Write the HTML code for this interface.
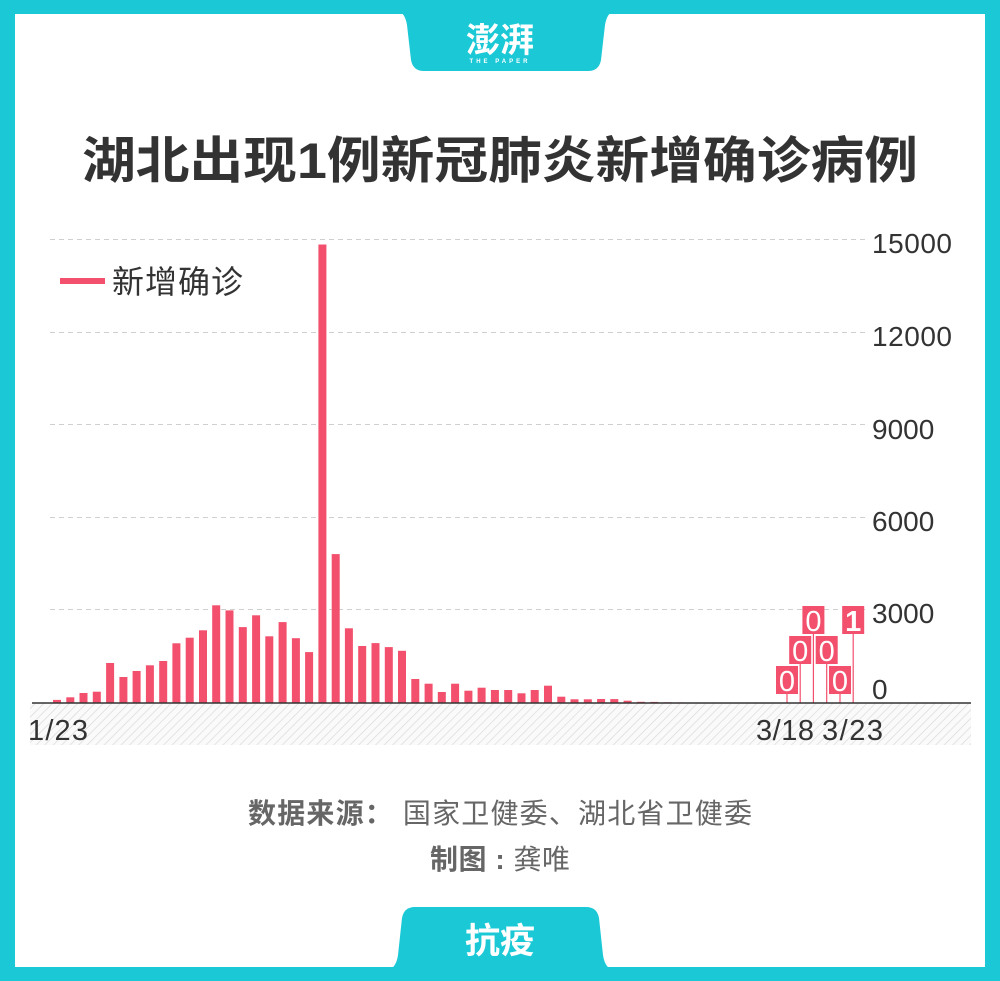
<!DOCTYPE html>
<html><head><meta charset="utf-8"><style>
html,body{margin:0;padding:0;background:#fff;}
svg{display:block;}
text{font-family:"Liberation Sans","Noto Sans CJK SC",sans-serif;}
</style></head><body>
<svg width="1000" height="981" viewBox="0 0 1000 981" xmlns="http://www.w3.org/2000/svg">
<defs>
<pattern id="hatch" width="6" height="6" patternUnits="userSpaceOnUse" patternTransform="rotate(45)">
<rect width="6" height="6" fill="#fafafa"/>
<line x1="0" y1="0" x2="0" y2="6" stroke="#dcdcdc" stroke-width="1.5"/>
</pattern>
</defs>
<rect width="1000" height="981" fill="#fff"/>
<rect x="0" y="0" width="1000" height="14" fill="#1bc9d6"/>
<rect x="0" y="967" width="1000" height="14" fill="#1bc9d6"/>
<rect x="0" y="0" width="15" height="981" fill="#1bc9d6"/>
<rect x="985" y="0" width="15" height="981" fill="#1bc9d6"/>
<path d="M396 10 Q405 12 407 25 L411 60 Q413 71 424 71 L588 71 Q599 71 601 60 L605 25 Q607 12 616 10 Z" fill="#1bc9d6"/>
<text x="500" y="52" font-size="34" fill="#fff" text-anchor="middle" font-weight="bold" font-family="Noto Serif CJK SC,serif">澎湃</text>
<text x="500" y="63" font-size="6" fill="#fff" text-anchor="middle" font-weight="bold" letter-spacing="3">THE PAPER</text>
<path d="M386 971 Q396 969 398 955 L402 918 Q404 907 415 907 L586 907 Q597 907 599 918 L603 955 Q605 969 615 971 Z" fill="#1bc9d6"/>
<text x="500" y="953" font-size="35" fill="#fff" text-anchor="middle" font-weight="bold">抗疫</text>
<text x="500" y="178" font-size="50" fill="#333" text-anchor="middle" font-weight="bold" textLength="836" lengthAdjust="spacingAndGlyphs">湖北出现1例新冠肺炎新增确诊病例</text>
<rect x="30" y="703" width="941" height="42" fill="url(#hatch)"/>
<g stroke="#cfcfcf" stroke-width="1" stroke-dasharray="5,4">
<line x1="50" y1="239.5" x2="866" y2="239.5"/>
<line x1="50" y1="332.5" x2="866" y2="332.5"/>
<line x1="50" y1="424.5" x2="866" y2="424.5"/>
<line x1="50" y1="517.5" x2="866" y2="517.5"/>
<line x1="50" y1="609.5" x2="866" y2="609.5"/>
</g>
<g font-size="28" fill="#333">
<text x="872" y="253" textLength="80">15000</text>
<text x="872" y="346" textLength="80">12000</text>
<text x="872" y="439">9000</text>
<text x="872" y="531">6000</text>
<text x="872" y="623">3000</text>
<text x="872" y="699">0</text>
</g>
<rect x="60" y="278" width="45" height="6" fill="#f2506c"/>
<text x="112" y="293" font-size="32" fill="#333" textLength="131">新增确诊</text>
<g fill="#f2506c">
<rect x="53.0" y="699.9" width="8" height="3.1"/>
<rect x="66.3" y="697.3" width="8" height="5.7"/>
<rect x="79.5" y="693.0" width="8" height="10.0"/>
<rect x="92.8" y="691.7" width="8" height="11.3"/>
<rect x="106.1" y="663.0" width="8" height="40.0"/>
<rect x="119.4" y="677.0" width="8" height="26.0"/>
<rect x="132.6" y="671.0" width="8" height="32.0"/>
<rect x="145.9" y="665.3" width="8" height="37.7"/>
<rect x="159.2" y="661.0" width="8" height="42.0"/>
<rect x="172.4" y="643.3" width="8" height="59.7"/>
<rect x="185.7" y="637.7" width="8" height="65.3"/>
<rect x="199.0" y="630.3" width="8" height="72.7"/>
<rect x="212.2" y="605.3" width="8" height="97.7"/>
<rect x="225.5" y="610.4" width="8" height="92.6"/>
<rect x="238.8" y="627.1" width="8" height="75.9"/>
<rect x="252.1" y="615.3" width="8" height="87.7"/>
<rect x="265.3" y="636.3" width="8" height="66.7"/>
<rect x="278.6" y="622.1" width="8" height="80.9"/>
<rect x="291.9" y="638.2" width="8" height="64.8"/>
<rect x="305.1" y="652.1" width="8" height="50.9"/>
<rect x="318.4" y="244.5" width="8" height="458.5"/>
<rect x="331.7" y="554.1" width="8" height="148.9"/>
<rect x="344.9" y="628.3" width="8" height="74.7"/>
<rect x="358.2" y="646.0" width="8" height="57.0"/>
<rect x="371.5" y="643.1" width="8" height="59.9"/>
<rect x="384.8" y="647.1" width="8" height="55.9"/>
<rect x="398.0" y="650.8" width="8" height="52.2"/>
<rect x="411.3" y="679.0" width="8" height="24.0"/>
<rect x="424.6" y="683.7" width="8" height="19.3"/>
<rect x="437.8" y="692.0" width="8" height="11.0"/>
<rect x="451.1" y="683.7" width="8" height="19.3"/>
<rect x="464.4" y="690.7" width="8" height="12.3"/>
<rect x="477.6" y="687.7" width="8" height="15.3"/>
<rect x="490.9" y="690.0" width="8" height="13.0"/>
<rect x="504.2" y="690.0" width="8" height="13.0"/>
<rect x="517.5" y="693.3" width="8" height="9.7"/>
<rect x="530.7" y="690.0" width="8" height="13.0"/>
<rect x="544.0" y="685.7" width="8" height="17.3"/>
<rect x="557.3" y="696.7" width="8" height="6.3"/>
<rect x="570.5" y="699.3" width="8" height="3.7"/>
<rect x="583.8" y="699.3" width="8" height="3.7"/>
<rect x="597.1" y="699.0" width="8" height="4.0"/>
<rect x="610.3" y="699.1" width="8" height="3.9"/>
<rect x="623.6" y="700.7" width="8" height="2.3"/>
<rect x="636.9" y="701.8" width="8" height="1.2"/>
<rect x="650.2" y="701.9" width="8" height="1.1"/>
<rect x="663.4" y="702.3" width="8" height="0.7"/>
<rect x="676.7" y="702.4" width="8" height="0.6"/>
</g>
<g stroke="#f2506c" stroke-width="1.2">
<line x1="787" y1="694" x2="787" y2="703"/>
<line x1="800.2" y1="664" x2="800.2" y2="703"/>
<line x1="813.4" y1="634" x2="813.4" y2="703"/>
<line x1="826.7" y1="664" x2="826.7" y2="703"/>
<line x1="840" y1="694" x2="840" y2="703"/>
<line x1="853.2" y1="634" x2="853.2" y2="703"/>
</g>
<g fill="#f2506c">
<rect x="776" y="666" width="22" height="28"/>
<rect x="789.2" y="636" width="22" height="28"/>
<rect x="802.4" y="606" width="22" height="28"/>
<rect x="815.7" y="636" width="22" height="28"/>
<rect x="829" y="666" width="22" height="28"/>
<rect x="842.2" y="606" width="22" height="28"/>
</g>
<g font-size="29" fill="#fff" text-anchor="middle">
<text x="787" y="691">0</text>
<text x="800.2" y="661">0</text>
<text x="813.4" y="631">0</text>
<text x="826.7" y="661">0</text>
<text x="840" y="691">0</text>
<text x="853.2" y="631" font-weight="bold">1</text>
</g>
<line x1="32" y1="703" x2="971" y2="703" stroke="#333" stroke-width="1.5"/>
<g font-size="29" fill="#333">
<text x="28" y="740" textLength="60">1/23</text>
<text x="756" y="740" textLength="58">3/18</text>
<text x="822" y="740" textLength="61">3/23</text>
</g>
<text x="248" y="823" font-size="28" fill="#666" textLength="504"><tspan font-weight="bold">数据来源：</tspan> 国家卫健委、湖北省卫健委</text>
<text x="430" y="869" font-size="28" fill="#666" textLength="140"><tspan font-weight="bold">制图 : </tspan>龚唯</text>
</svg>
</body></html>
